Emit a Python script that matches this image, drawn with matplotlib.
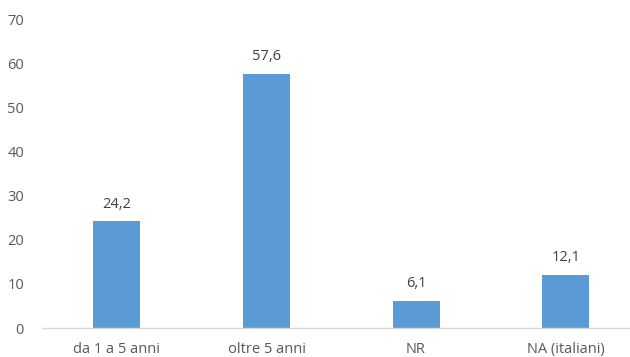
import matplotlib.pyplot as plt

categories = ["da 1 a 5 anni", "oltre 5 anni", "NR", "NA (italiani)"]
values = [24.2, 57.6, 6.1, 12.1]
labels = ["24,2", "57,6", "6,1", "12,1"]

plt.rcParams['font.family'] = ['Open Sans', 'DejaVu Sans']

fig = plt.figure(figsize=(6.3, 3.57), dpi=100)
ax = fig.add_axes([0.0667, 0.0812, 0.9333, 0.8648])

x = range(len(categories))
bars = ax.bar(x, values, width=0.314, color='#5B9BD5', zorder=2)

for b, lab in zip(bars, labels):
    ax.annotate(lab, (b.get_x() + b.get_width() / 2, b.get_height()),
                xytext=(0, 7), textcoords='offset points',
                ha='center', va='bottom', fontsize=10.5, color='#404040')

ax.set_xlim(-0.5, 3.43)
ax.set_ylim(0, 70)
ax.set_yticks(range(0, 71, 10))
ax.set_xticks(list(x))
ax.set_xticklabels(categories)

for s in ['top', 'right', 'left']:
    ax.spines[s].set_visible(False)
ax.spines['bottom'].set_color('#D9D9D9')
ax.spines['bottom'].set_linewidth(1)
ax.tick_params(axis='both', length=0, labelsize=10.5, colors='#595959')
ax.tick_params(axis='y', pad=13)
ax.tick_params(axis='x', pad=10)

fig.savefig('out.png', dpi=100)
